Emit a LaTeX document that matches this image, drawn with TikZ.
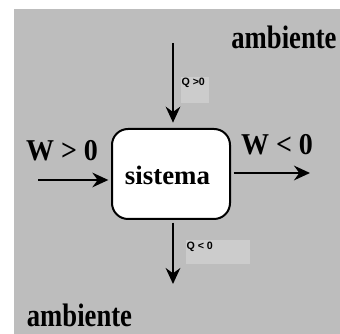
\documentclass[tikz,border=0pt]{standalone}
\usepackage{fontspec}
\setmainfont{Liberation Serif}
\newfontfamily\labelsans{Liberation Sans}
\usetikzlibrary{arrows.meta}

\definecolor{bggray}{RGB}{189,189,189}
\definecolor{tabgray}{RGB}{204,204,204}

\tikzset{every picture/.style={line width=0.75pt}}
\tikzset{
  bigtext/.style={inner sep=0pt, anchor=base, font=\bfseries\fontsize{20}{24}\selectfont, yscale=1.22},
  systext/.style={inner sep=0pt, anchor=base, font=\bfseries\fontsize{19}{22}\selectfont, xscale=1.06, yscale=1.05},
  wtext/.style={inner sep=0pt, anchor=base, font=\bfseries\fontsize{21}{24}\selectfont, yscale=1.08},
  qtext/.style={inner sep=0pt, anchor=west, font=\labelsans\bfseries\fontsize{8}{9}\selectfont},
  sysbox/.style={draw, fill=white, line width=1.5pt, rounded corners=12pt,
    minimum width=88.5pt, minimum height=67.5pt, inner sep=0pt},
  flow/.style={line width=1.6pt, -{Stealth[length=12pt, width=11pt, inset=4pt]}}
}

\begin{document}
\begin{tikzpicture}[x=0.75pt,y=0.75pt,yscale=-1,xscale=1]
\useasboundingbox (0,0) rectangle (340,334);

%Shape: background
\fill [bggray] (14,9) rectangle (340,334);
%Shape: tabs behind Q labels
\fill [tabgray] (181,77) rectangle (209,103);
\fill [tabgray] (186,240) rectangle (250,264);

%Shape: system box
\node (sis) [sysbox] at (171,174) {};
\node (sislbl) [systext] at (167.5,185) {sistema};

% Text Node
\node (ambtop) [bigtext] at (284,49) {ambiente};
% Text Node
\node (ambbot) [bigtext] at (79.5,327) {ambiente};
% Text Node
\node (wpos) [wtext] at (62,161) {W > 0};
% Text Node
\node (wneg) [wtext] at (277,155) {W < 0};
% Text Node
\node (qpos) [qtext] at (181,83) {Q >0};
% Text Node
\node (qneg) [qtext] at (186,247) {Q < 0};

%Arrows
\coordinate (qin) at (173,43);
\coordinate (qout) at (173,284);
\coordinate (win) at (38,180);
\coordinate (wout) at (310,173);
\draw [flow, shorten >=4pt] (qin) -- (qin |- sis.north);
\draw [flow, shorten <=2pt] (qin |- sis.south) -- (qout);
\draw [flow, shorten >=2pt] (win) -- (win -| sis.west);
\draw [flow, shorten <=2pt] (wout -| sis.east) -- (wout);

\end{tikzpicture}
\end{document}
